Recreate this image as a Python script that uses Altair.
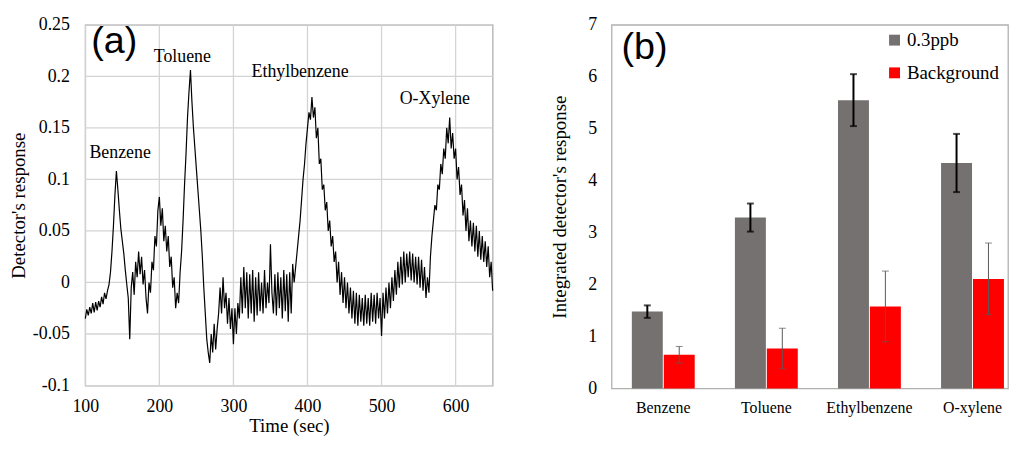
import altair as alt
import pandas as pd

# ---------------- Panel (a): detector trace ----------------
time_s = list(range(100, 651, 2))
response = [
    -0.035, -0.026, -0.032, -0.024, -0.030,
    -0.020, -0.029, -0.019, -0.027, -0.018,
    -0.024, -0.014, -0.021, -0.010, -0.016,
    -0.008, -0.002, 0.010, 0.030, 0.055,
    0.085, 0.108, 0.090, 0.070, 0.052,
    0.040, 0.028, 0.012, -0.002, -0.015,
    -0.055, -0.005, 0.010, -0.012, 0.020,
    0.005, 0.030, 0.008, 0.025, -0.002,
    0.012, -0.015, -0.030, 0.000, -0.010,
    0.020, 0.012, 0.045, 0.035, 0.070,
    0.083, 0.055, 0.072, 0.040, 0.055,
    0.030, 0.045, 0.015, 0.025, -0.005,
    0.005, -0.025, -0.010, -0.020, 0.010,
    0.030, 0.060, 0.095, 0.125, 0.160,
    0.185, 0.206, 0.175, 0.150, 0.130,
    0.110, 0.090, 0.070, 0.050, 0.025,
    -0.005, -0.030, -0.055, -0.068, -0.078,
    -0.050, -0.068, -0.040, -0.065, -0.045,
    -0.030, -0.005, -0.030, 0.005, -0.025,
    -0.010, -0.040, -0.015, -0.045, -0.025,
    -0.060, -0.025, -0.050, -0.020, -0.035,
    0.005, -0.030, 0.015, -0.025, 0.010,
    -0.035, 0.008, -0.030, 0.012, -0.038,
    0.005, -0.032, 0.010, -0.028, 0.000,
    -0.030, 0.012, -0.025, 0.000, -0.020,
    0.037, -0.010, -0.030, 0.008, -0.032,
    0.010, -0.025, 0.005, -0.035, 0.012,
    -0.028, 0.008, -0.038, 0.010, -0.030,
    0.018, 0.000, 0.015, 0.030, 0.045,
    0.060, 0.080, 0.100, 0.115, 0.135,
    0.150, 0.165, 0.158, 0.180, 0.160,
    0.170, 0.140, 0.150, 0.115, 0.120,
    0.090, 0.095, 0.070, 0.078, 0.050,
    0.060, 0.035, 0.045, 0.020, 0.030,
    0.000, 0.020, -0.012, 0.010, -0.020,
    0.005, -0.025, 0.000, -0.030, -0.005,
    -0.035, -0.008, -0.040, -0.010, -0.042,
    -0.012, -0.038, -0.015, -0.042, -0.012,
    -0.040, -0.015, -0.042, -0.010, -0.038,
    -0.012, -0.040, -0.010, -0.035, -0.015,
    -0.052, -0.010, -0.035, -0.005, -0.030,
    0.000, -0.025, 0.005, -0.018, 0.012,
    -0.012, 0.020, -0.005, 0.025, -0.002,
    0.030, 0.000, 0.028, 0.005, 0.030,
    0.002, 0.028, 0.000, 0.025, -0.002,
    0.025, -0.005, 0.022, -0.008, 0.015,
    -0.015, 0.005, -0.010, 0.025, 0.045,
    0.060, 0.075, 0.070, 0.095, 0.090,
    0.115, 0.105, 0.130, 0.120, 0.150,
    0.135, 0.160, 0.130, 0.145, 0.120,
    0.130, 0.100, 0.112, 0.085, 0.095,
    0.065, 0.080, 0.050, 0.072, 0.040,
    0.060, 0.035, 0.058, 0.030, 0.055,
    0.025, 0.050, 0.022, 0.045, 0.020,
    0.040, 0.015, 0.035, 0.005, 0.020,
    -0.008,
]
peak_names = ["Benzene", "Toluene", "Ethylbenzene", "O-Xylene"]
peak_label_time = [147, 231, 390, 572]
peak_label_resp = [0.126, 0.219, 0.2045, 0.178]
x_ticks_a = [100, 200, 300, 400, 500, 600]
y_ticks_a = [-0.1, -0.05, 0, 0.05, 0.1, 0.15, 0.2, 0.25]

# ---------------- Panel (b): integrated response ----------------
compounds = ["Benzene", "Toluene", "Ethylbenzene", "O-xylene"]
series_names = ["0.3ppb", "Background"]
resp_03ppb = [1.48, 3.29, 5.55, 4.34]
err_03ppb = [0.12, 0.27, 0.50, 0.56]
resp_bg = [0.65, 0.77, 1.58, 2.11]
err_bg = [0.16, 0.39, 0.68, 0.69]
y_ticks_b = [0, 1, 2, 3, 4, 5, 6, 7]

SERIF = "Liberation Serif"
SANS = "Liberation Sans"
GRID = "#d4d4d4"

df_a = pd.DataFrame({"time": time_s, "resp": response})
df_peaks = pd.DataFrame({"name": peak_names, "time": peak_label_time, "resp": peak_label_resp})
df_vgrid = pd.DataFrame({"time": x_ticks_a})
df_hgrid = pd.DataFrame({"resp": y_ticks_a})

xscale_a = alt.Scale(domain=[100, 650], nice=False, zero=False)
yscale_a = alt.Scale(domain=[-0.1, 0.25], nice=False, zero=False)

xa = alt.X("time:Q", scale=xscale_a,
           axis=alt.Axis(values=x_ticks_a, title="Time (sec)", grid=False,
                         ticks=False, domain=False, labelFlush=False,
                         labelFontSize=18, labelPadding=12, titleFontSize=19,
                         titlePadding=1))
ya = alt.Y("resp:Q", scale=yscale_a,
           axis=alt.Axis(values=y_ticks_a, title="Detector's response", grid=False,
                         ticks=False, domain=False, labelFlush=False,
                         labelFontSize=18, labelPadding=16, titleFontSize=19,
                         titlePadding=4, labelExpr="'' + datum.value"))

vgrid = alt.Chart(df_vgrid).mark_rule(color=GRID, strokeWidth=1.3).encode(x=xa)
hgrid = alt.Chart(df_hgrid).mark_rule(color=GRID, strokeWidth=1.3).encode(y=ya)
line = alt.Chart(df_a).mark_line(color="black", strokeWidth=1.2).encode(x=xa, y=ya)
peaks = alt.Chart(df_peaks).mark_text(font=SERIF, fontSize=18, color="black",
                                      align="center", baseline="middle").encode(
    x=alt.X("time:Q"), y=alt.Y("resp:Q"), text="name:N")
tag_a = alt.Chart(pd.DataFrame({"t": ["(a)"]})).mark_text(
    font=SANS, fontSize=38, color="black", align="left", baseline="middle").encode(
    x=alt.value(6), y=alt.value(17), text="t:N")

panel_a = alt.layer(vgrid, hgrid, line, peaks, tag_a).properties(width=411, height=364)

# bars
rows = []
for c, v, e in zip(compounds, resp_03ppb, err_03ppb):
    rows.append({"compound": c, "series": series_names[0], "value": v, "lo": v - e, "hi": v + e})
for c, v, e in zip(compounds, resp_bg, err_bg):
    rows.append({"compound": c, "series": series_names[1], "value": v, "lo": v - e, "hi": v + e})
df_b = pd.DataFrame(rows)

xb = alt.X("compound:N", sort=compounds,
           scale=alt.Scale(paddingInner=0.39, paddingOuter=0.118, align=0.833),
           axis=alt.Axis(title=None, labelAngle=0, ticks=False, domain=False,
                         labelFontSize=16, labelPadding=11))
xoff = alt.XOffset("series:N", sort=series_names,
                   scale=alt.Scale(paddingInner=0.03, paddingOuter=0))
yb = alt.Y("value:Q", scale=alt.Scale(domain=[0, 7], nice=False),
           axis=alt.Axis(values=y_ticks_b, format="d", title="Integrated detector's response",
                         grid=False, ticks=False, domain=False, labelFontSize=18,
                         labelPadding=15, titleFontSize=19, titlePadding=18))

bars = alt.Chart(df_b).mark_bar().encode(
    x=xb, xOffset=xoff, y=yb,
    color=alt.Color("series:N", sort=series_names,
                    scale=alt.Scale(domain=series_names, range=["#767171", "#ff0000"]),
                    legend=alt.Legend(title=None, orient="none", legendX=807, legendY=6,
                                      direction="vertical", symbolType="square",
                                      symbolSize=121, symbolStrokeWidth=0,
                                      symbolOpacity=1, labelFont=SERIF,
                                      labelFontSize=19, labelColor="black",
                                      labelOffset=3, rowPadding=13, padding=0)))


def err_layers(series, color, width):
    base = alt.Chart(df_b).transform_filter(alt.datum.series == series)
    enc = dict(x=alt.X("compound:N", sort=compounds),
               xOffset=alt.XOffset("series:N", sort=series_names))
    rule = base.mark_rule(color=color, strokeWidth=width).encode(y="lo:Q", y2="hi:Q", **enc)
    cap_lo = base.mark_tick(color=color, thickness=width, size=7).encode(y="lo:Q", **enc)
    cap_hi = base.mark_tick(color=color, thickness=width, size=7).encode(y="hi:Q", **enc)
    return [rule, cap_lo, cap_hi]


tag_b = alt.Chart(pd.DataFrame({"t": ["(b)"]})).mark_text(
    font=SANS, fontSize=38, color="black", align="left", baseline="middle").encode(
    x=alt.value(10), y=alt.value(24), text="t:N")

panel_b = alt.layer(bars, *err_layers("0.3ppb", "black", 2),
                    *err_layers("Background", "#595959", 1), tag_b).properties(
    width=400, height=367)

chart = alt.hconcat(panel_a, panel_b, spacing=54).properties(
    padding={"left": 0, "top": 5, "right": 0, "bottom": 1},
    background="white",
).configure_view(stroke="#b0b0b0", strokeWidth=1.3).configure_axis(
    labelFont=SERIF, titleFont=SERIF, labelColor="black", titleColor="black",
    titleFontWeight="normal")

chart.save("out.html", embed_options={"renderer": "svg", "actions": False})
